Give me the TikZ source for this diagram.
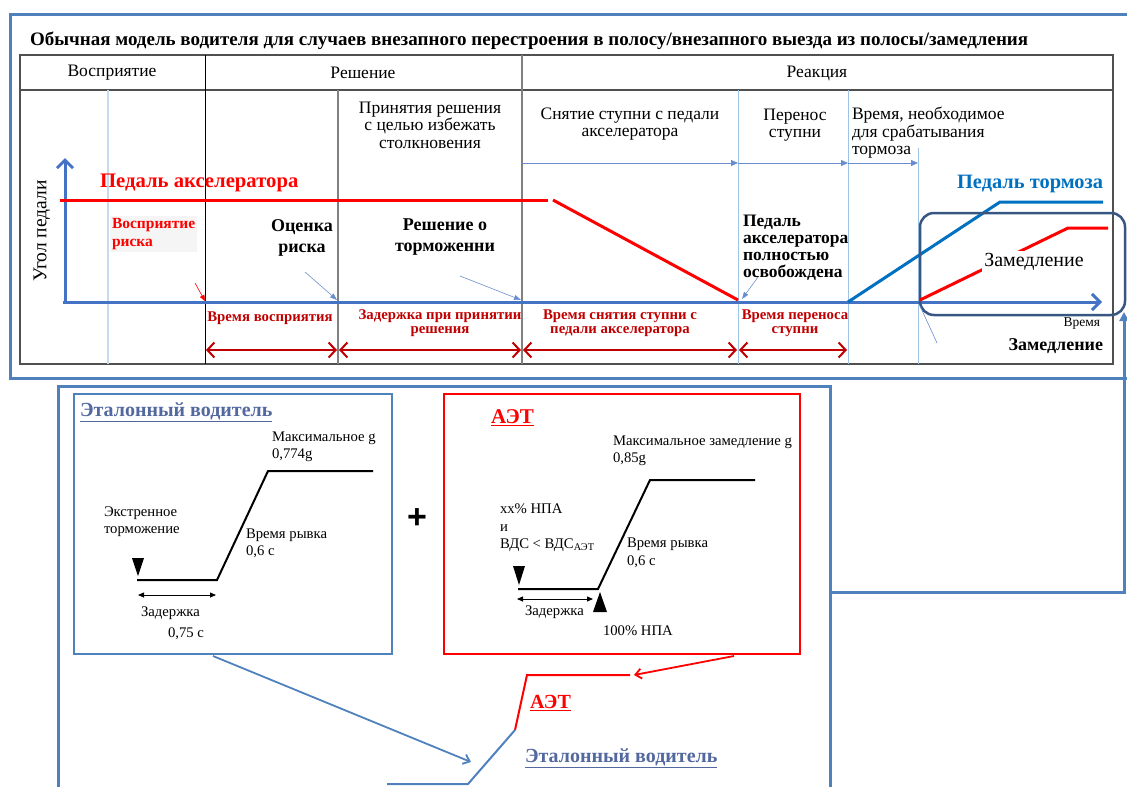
\documentclass[tikz,border=0pt]{standalone}
\usepackage{fontspec}
\setmainfont{Liberation Serif}
\newfontfamily\plusfont{Liberation Sans}
\usetikzlibrary{arrows.meta}
\definecolor{frameblue}{RGB}{79,129,189}
\definecolor{axisblue}{RGB}{68,114,196}
\definecolor{brakeblue}{RGB}{0,112,192}
\definecolor{thinblue}{RGB}{157,195,230}
\definecolor{darkred}{RGB}{192,0,0}
\definecolor{slateframe}{RGB}{56,86,130}
\definecolor{refblue}{RGB}{84,104,160}
\definecolor{gridgray}{RGB}{80,80,80}
\begin{document}
\begin{tikzpicture}[x=1pt,y=-1pt,
  every node/.style={inner sep=0pt,outer sep=0pt},
  hdr/.style={font=\fontsize{17.5}{17.5}\selectfont,align=center},
  redlbl/.style={text=darkred,font=\bfseries\fontsize{14.8}{13.5}\selectfont,align=center},
  boldlbl/.style={font=\bfseries\fontsize{18}{20.5}\selectfont,align=center},
  small/.style={font=\fontsize{14.7}{17.5}\selectfont,align=left,anchor=west},
  durarrow/.style={darkred,line width=2pt,{Straight Barb[length=7pt,width=15pt]}-{Straight Barb[length=7pt,width=15pt]}},
  phasearrow/.style={axisblue!80,line width=0.8pt,-{Triangle[length=7pt,width=6pt]}},
  pointer/.style={axisblue!80,line width=0.6pt,-{Triangle[length=7pt,width=5pt]}},
  frameline/.style={frameblue,line width=3pt},
  curve/.style={black,line width=2pt},
  delayarrow/.style={black,line width=0.8pt,{Triangle[length=6pt,width=5pt]}-{Triangle[length=6pt,width=5pt]}}]
\useasboundingbox (0,0) rectangle (1127,787);
\clip (0,0) rectangle (1127,787);
% frames
\draw[frameline] (1140,14) -- (10,14) -- (10,378) -- (1140,378);
\draw[frameline] (58,790) -- (58,386) -- (830,386) -- (830,790);
\draw[frameline,-{Triangle[length=9pt,width=9pt]}] (830,592) -- (1124,592) -- (1124,312);
% title
\node[anchor=west,font=\bfseries\fontsize{19}{21}\selectfont] (title) at (30,41) {Обычная модель водителя для случаев внезапного перестроения в полосу/внезапного выезда из полосы/замедления};
% table
\draw[gridgray,line width=1.2pt] (20,55) rectangle (1113,364);
\draw[gridgray,line width=1.2pt] (20,90) -- (1113,90);
\draw[black,line width=1pt] (205,55) -- (205,364);
\draw[gray,line width=1.5pt] (338,90) -- (338,364);
\draw[gray,line width=1.5pt] (522,55) -- (522,364);
\draw[thinblue!60,line width=2pt] (108,90) -- (108,364);
\foreach \x in {738,848} \draw[thinblue,line width=1pt] (\x,90) -- (\x,364);
\draw[thinblue,line width=1pt] (918,148) -- (918,364);
\node[hdr] (perc) at (112,73) {Восприятие};
\node[hdr] (dec) at (363,73) {Решение};
\node[hdr] (react) at (817,73) {Реакция};
\node[hdr] (avoid) at (430,125) {Принятия решения\\с целью избежать\\столкновения};
\node[hdr] (lift) at (630,124) {Снятие ступни с педали\\акселератора};
\node[hdr] (move) at (795,125) {Перенос\\ступни};
\node[hdr,align=left,anchor=west] (brk) at (852,133) {Время, необходимое\\для срабатывания\\тормоза};
% phase arrows
\draw[phasearrow] (522,163) -- (738,163);
\draw[phasearrow] (738,163) -- (848,163);
\draw[phasearrow] (848,163) -- (918,163);
% axes
\coordinate (O) at (65,302);
\draw[axisblue,line width=3pt,-{Straight Barb[length=8pt,width=16pt]}] (O) -- (65,158);
\draw[axisblue,line width=3pt,-{Straight Barb[length=8pt,width=16pt]}] (63,302) -- (1102,302);
\node[font=\fontsize{19.5}{20}\selectfont,rotate=90] (angle) at (42,231) {Угол педали};
% accelerator pedal
\draw[red,line width=3pt] (60,200) -- (548,200);
\draw[red,line width=3pt] (553,200) -- (738,300);
\node[anchor=west,text=red,font=\bfseries\fontsize{20.7}{22}\selectfont] (accel) at (100,183) {Педаль акселератора};
% brake pedal
\draw[brakeblue,line width=3pt] (848,302) -- (1000,202) -- (1103,202);
\node[anchor=east,text=brakeblue,font=\bfseries\fontsize{20.4}{22}\selectfont] (brake) at (1103,184) {Педаль тормоза};
% deceleration
\draw[slateframe,line width=2.5pt,rounded corners=14pt] (920,213) rectangle (1125,315);
\draw[red,line width=3pt] (920,300) -- (1068,228) -- (1108,228);
\node[fill=white,inner sep=2pt,font=\fontsize{20}{22}\selectfont] (decel) at (1034,262) {Замедление};
\draw[pointer,-] (937,343) -- (920,306);
\node[anchor=east,font=\fontsize{13.5}{14}\selectfont] (time) at (1100,324) {Время};
\node[anchor=east,font=\bfseries\fontsize{18}{18}\selectfont] (decel2) at (1103,346) {Замедление};
% events
\node[text=red,font=\bfseries\fontsize{15.5}{18}\selectfont,align=left,anchor=west,fill=black!4,inner sep=2pt] (risk) at (110,234) {Восприятие\\риска};
\draw[red,line width=0.6pt,-{Triangle[length=6pt,width=5pt]}] (195,283) -- (205,301);
\node[boldlbl] (assess) at (302,238) {Оценка\\риска};
\draw[pointer] (305,272) -- (337,300);
\node[boldlbl] (braking) at (445,237) {Решение о\\торможенни};
\draw[pointer] (460,276) -- (521,300);
\node[boldlbl,font=\bfseries\fontsize{17.5}{17}\selectfont,align=left,anchor=west] (released) at (743,248) {Педаль\\акселератора\\полностью\\освобождена};
\draw[pointer] (758,277) -- (742,299);
% durations
\node[redlbl] (tperc) at (270,318) {Время восприятия};
\node[redlbl] (tdec) at (440,323) {Задержка при принятии\\решения};
\node[redlbl] (tlift) at (620,323) {Время снятия ступни с\\педали акселератора};
\node[redlbl] (tmove) at (795,323) {Время переноса\\ступни};
\draw[durarrow] (206,350) -- (337,350);
\draw[durarrow] (339,350) -- (521,350);
\draw[durarrow] (523,350) -- (737,350);
\draw[durarrow] (739,350) -- (847,350);
% reference driver
\draw[frameblue,line width=1.2pt] (74,394) rectangle (392,654);
\node[anchor=west,text=refblue,font=\bfseries\fontsize{20}{22}\selectfont] (refttl) at (80,412) {\underline{Эталонный водитель}};
\draw[curve] (137,580) -- (217,580) -- (268,471) -- (373,471);
\fill (132,558) -- (144,558) -- (138,576) -- cycle;
\node[small] (refmax) at (272,447) {Максимальное g\\0,774g};
\node[small] (refemg) at (104,521.5) {Экстренное\\торможение};
\node[small] (refjerk) at (246,543.5) {Время рывка\\0,6 с};
\draw[delayarrow] (138,595) -- (216,595);
\node[small] (refdel) at (141,613) {Задержка};
\node[small] (reft) at (168,634) {0,75 с};
\node[font=\plusfont\bfseries\fontsize{34}{34}\selectfont] (plus) at (417,519) {+};
% AEB
\draw[red,line width=1.5pt] (444,394) rectangle (800,654);
\node[anchor=west,text=red,font=\bfseries\fontsize{21}{22}\selectfont] (aebttl) at (491,418) {\underline{АЭТ}};
\draw[curve] (518,589) -- (598,589) -- (650,480) -- (755,480);
\fill (513,566) -- (525,566) -- (519,585) -- cycle;
\fill (593,612) -- (607,612) -- (600,592) -- cycle;
\node[small] (aebmax) at (613,451) {Максимальное замедление g\\0,85g};
\node[small] (aebcond) at (500,528) {хх\% НПА\\и\\ВДС < ВДС\textsubscript{АЭТ}};
\node[small] (aebjerk) at (627,553) {Время рывка\\0,6 с};
\draw[delayarrow] (517,599) -- (593,599);
\node[small] (aebdel) at (525,612) {Задержка};
\node[small] (aebfull) at (603,631) {100\% НПА};
% combined
\coordinate (aebend) at (634,675);
\coordinate (refend) at (471,762);
\draw[red,line width=1.8pt,-{Straight Barb[length=6pt,width=10pt]}] (734,656) -- (aebend);
\draw[red,line width=2pt] (630,675) -- (527,675) -- (515,730);
\draw[frameblue,line width=2pt] (515,730) -- (468,784) -- (387,784);
\draw[frameblue,line width=1.8pt,-{Straight Barb[length=6pt,width=10pt]}] (213,656) -- (refend);
\node[anchor=west,text=red,font=\bfseries\fontsize{20}{22}\selectfont] (aeblbl) at (530,703) {\underline{АЭТ}};
\node[anchor=west,text=refblue,font=\bfseries\fontsize{20}{22}\selectfont] (reflbl) at (525,758) {\underline{Эталонный водитель}};
\end{tikzpicture}
\end{document}
